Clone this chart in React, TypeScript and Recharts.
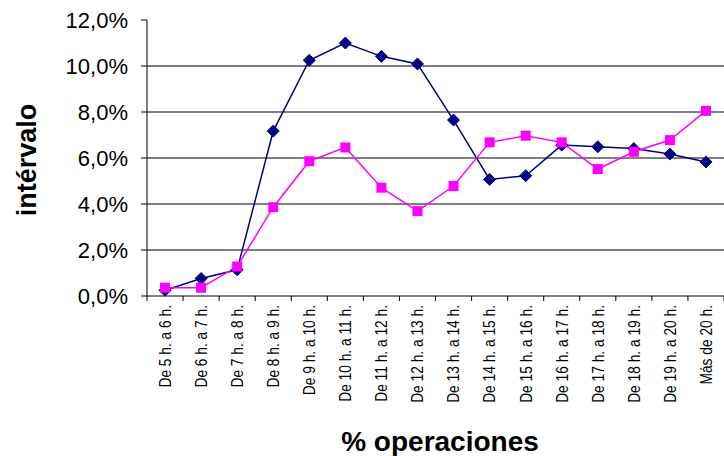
import React from 'react';
import { LineChart, Line, XAxis, YAxis, CartesianGrid } from 'recharts';

const categories = [
  'De 5 h. a 6 h.', 'De 6 h. a 7 h.', 'De 7 h. a 8 h.', 'De 8 h. a 9 h.',
  'De 9 h. a 10 h.', 'De 10 h. a 11 h.', 'De 11 h. a 12 h.', 'De 12 h. a 13 h.',
  'De 13 h. a 14 h.', 'De 14 h. a 15 h.', 'De 15 h. a 16 h.', 'De 16 h. a 17 h.',
  'De 17 h. a 18 h.', 'De 18 h. a 19 h.', 'De 19 h. a 20 h.', 'Más de 20 h.',
];
const serieAzul = [0.25, 0.76, 1.14, 7.17, 10.25, 11.0, 10.42, 10.09, 7.65, 5.07, 5.23, 6.56, 6.49, 6.41, 6.17, 5.83];
const serieRosa = [0.36, 0.36, 1.28, 3.86, 5.86, 6.46, 4.71, 3.69, 4.78, 6.68, 6.97, 6.68, 5.52, 6.27, 6.78, 8.05];
const yTicks = [0, 2, 4, 6, 8, 10, 12];
const gridValues = [2, 4, 6, 8, 10];
const xBounds = categories.map((_, i) => i).concat(categories.length);

const data = categories.map((name, i) => ({ x: i + 0.5, name, azul: serieAzul[i], rosa: serieRosa[i] }));

const W = 724;
const H = 456;
const LEFT = 147;
const PLOT_W = W - LEFT;
const STEP = PLOT_W / categories.length;
const FONT = '"Liberation Sans", Arial, sans-serif';

const fmt = (v: number) => v.toFixed(1).replace('.', ',') + '%';

const XTick = (props: any) => {
  const { x, y, payload } = props;
  const i = payload.value;
  if (i >= categories.length) return <g />;
  const cx = x + STEP / 2;
  const ty = y + 2;
  // rotated, slightly condensed like the original
  return (
    <text x={0} y={0} transform={`translate(${cx}, ${ty}) rotate(-90) scale(0.86, 1)`} textAnchor="end" dominantBaseline="central"
      fontSize={16} fontFamily={FONT} fill="#000">
      {categories[i]}
    </text>
  );
};

const Diamond = (props: any) => {
  const { cx, cy, index } = props;
  const r = 6;
  return <polygon key={`d-${index}`} points={`${cx},${cy - r} ${cx + r},${cy} ${cx},${cy + r} ${cx - r},${cy}`} fill="#000080" stroke="#000080" />;
};

const Square = (props: any) => {
  const { cx, cy, index } = props;
  const s = 5;
  return <rect key={`s-${index}`} x={cx - s} y={cy - s} width={s * 2} height={s * 2} fill="#FF00FF" />;
};

export default function App() {
  return (
    <div style={{ width: W, height: H, background: '#fff' }}>
      <style>{'body{margin:0}'}</style>
      <LineChart width={W} height={H} data={data} margin={{ top: 20, right: 0, bottom: 0, left: 0 }}>
        <CartesianGrid vertical={false} horizontalValues={gridValues} stroke="#000" strokeWidth={1} />
        <XAxis
          type="number"
          dataKey="x"
          domain={[0, categories.length]}
          ticks={xBounds}
          interval={0}
          height={160}
          stroke="#000"
          tickSize={5}
          tickMargin={2}
          tick={<XTick />}
          label={{
            content: (p: any) => (
              <text x={440} y={p.viewBox.y + 155} textAnchor="middle"
                fontSize={28} fontWeight="bold" fontFamily={FONT} fill="#000">% operaciones</text>
            ),
          }}
        />
        <YAxis
          domain={[0, 12]}
          ticks={yTicks}
          interval={0}
          width={LEFT}
          stroke="#000"
          tickSize={6}
          tickMargin={13}
          tickFormatter={fmt}
          tick={{ fontSize: 22, fontFamily: FONT, fill: '#000' }}
          label={{
            content: (p: any) => {
              const cy = 160;
              return (
                <text x={27} y={cy} transform={`rotate(-90, 27, ${cy})`} textAnchor="middle" dominantBaseline="central"
                  fontSize={27} fontWeight="bold" fontFamily={FONT} fill="#000">intérvalo</text>
              );
            },
          }}
        />
        <Line dataKey="azul" stroke="#000080" strokeWidth={1.5} dot={<Diamond />} isAnimationActive={false} />
        <Line dataKey="rosa" stroke="#FF00FF" strokeWidth={1.5} dot={<Square />} isAnimationActive={false} />
      </LineChart>
    </div>
  );
}
